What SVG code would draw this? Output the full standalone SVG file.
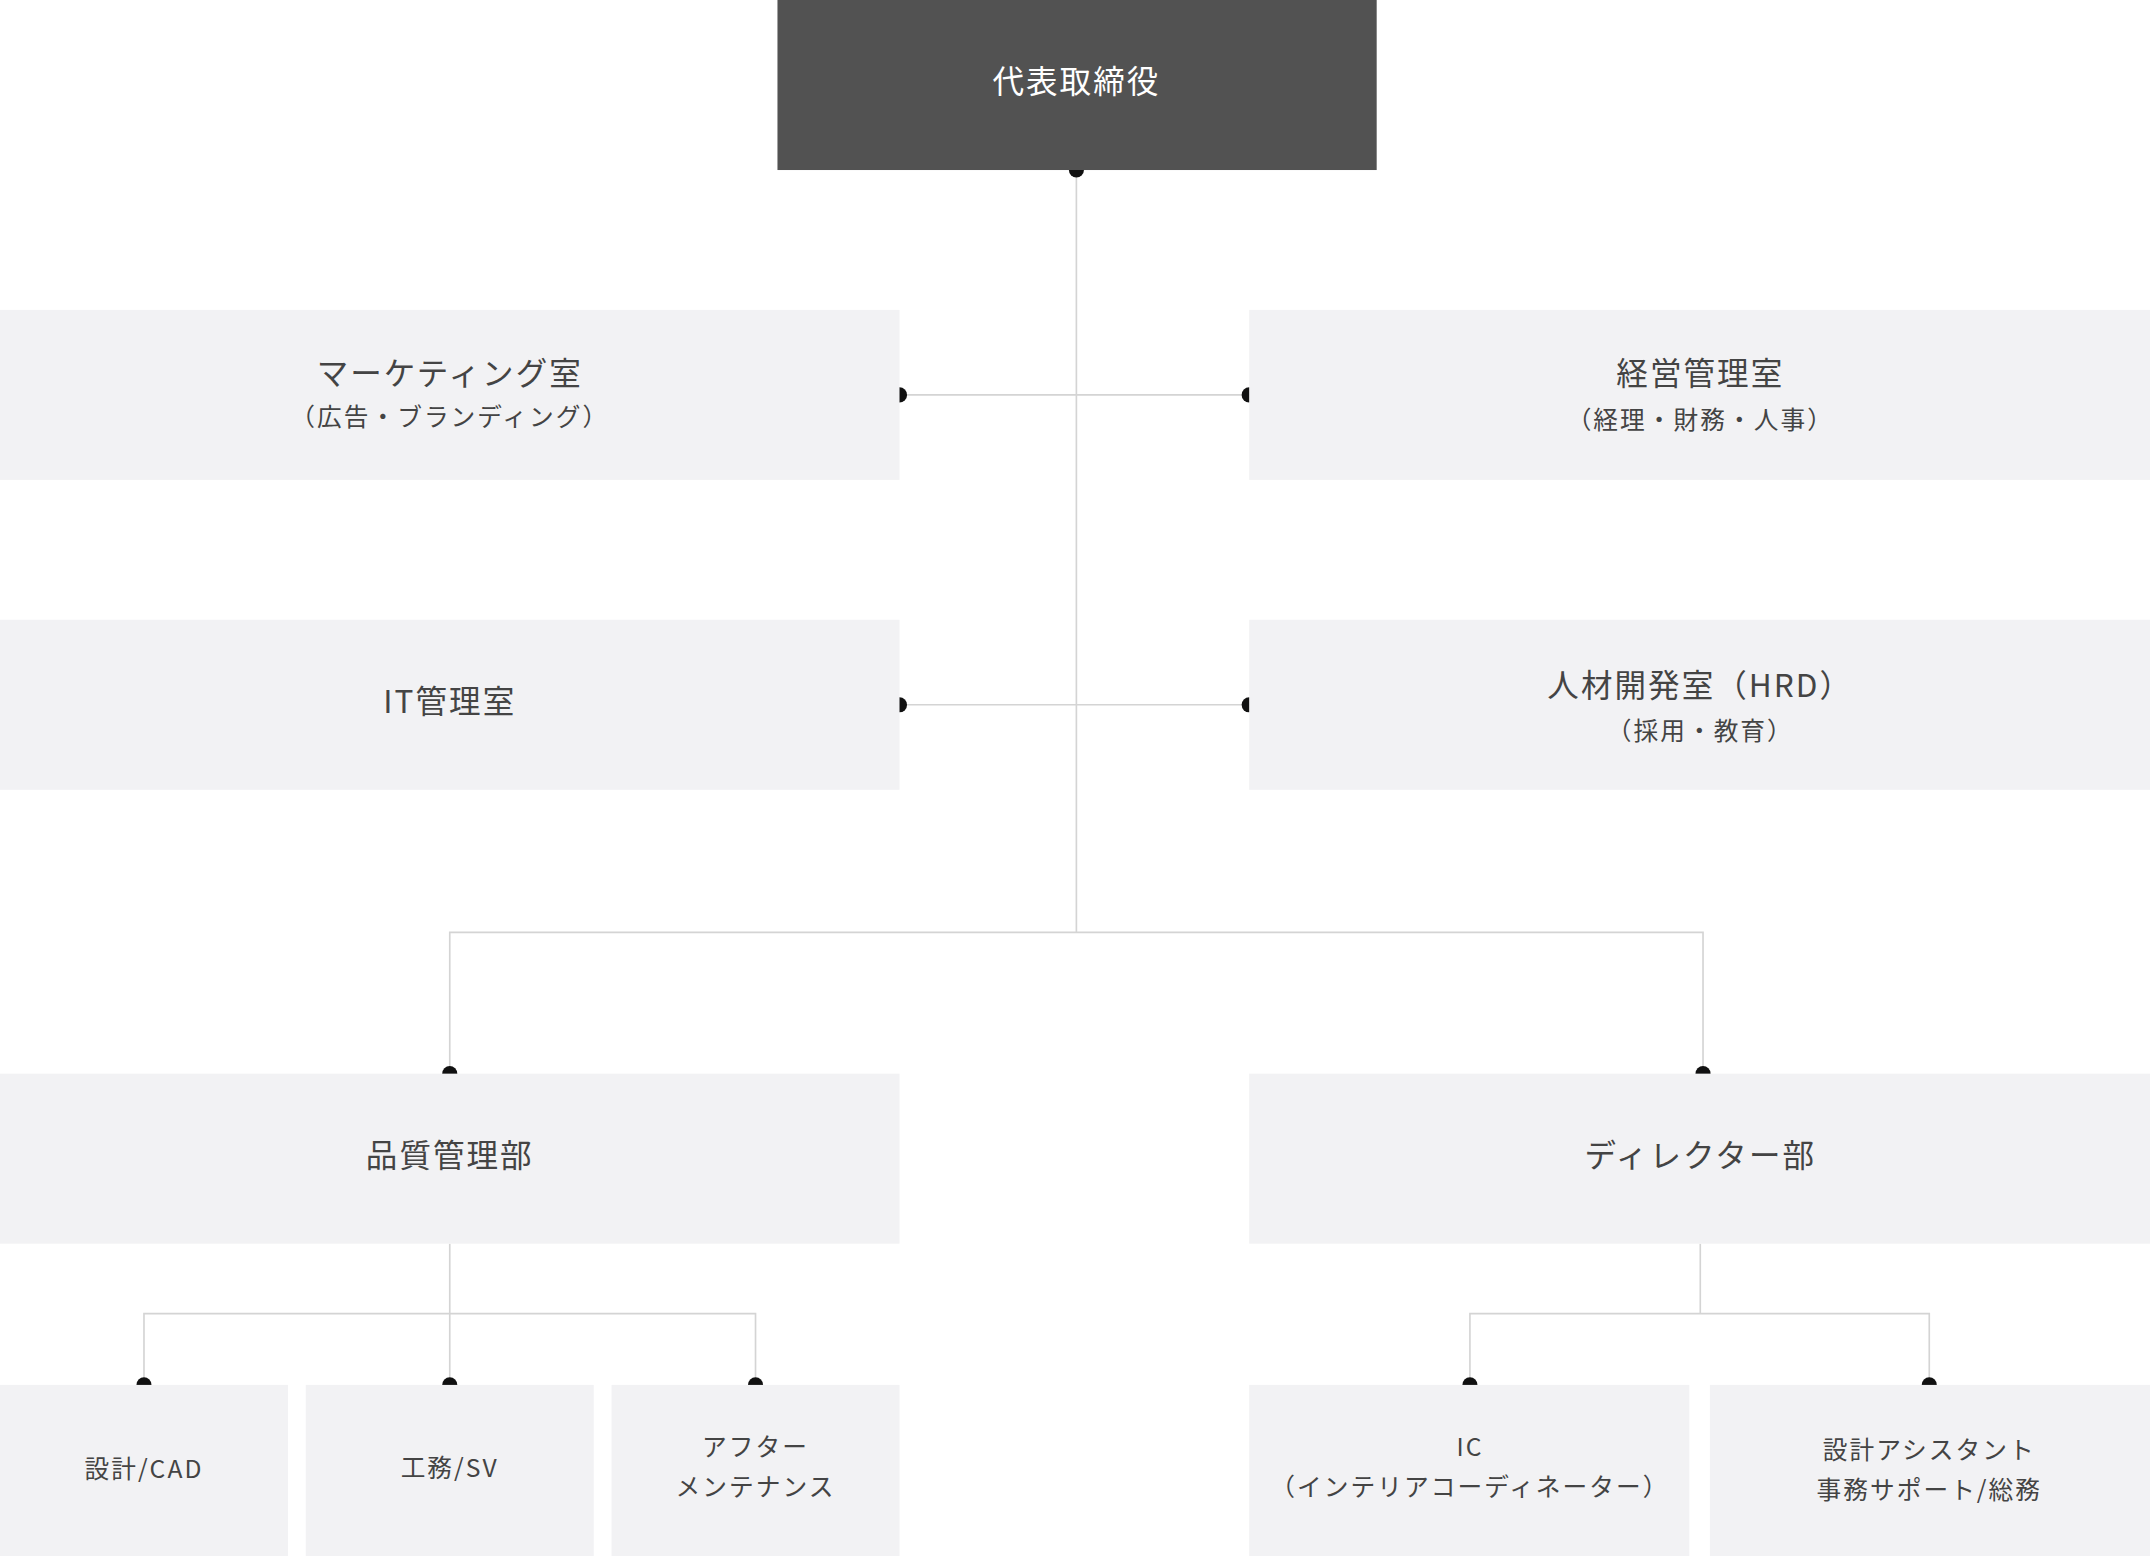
<svg xmlns="http://www.w3.org/2000/svg" width="2150" height="1556" viewBox="0 0 2150 1556">
<style>
.b{fill:#f2f2f4}
.t{font-family:"Noto Sans CJK JP","Noto Sans",sans-serif;fill:#444;text-anchor:middle;letter-spacing:1.5px}
.l{font-size:23px}.s{font-size:18px}.m{font-size:18px}
.c{stroke:#d4d4d4;stroke-width:1.2;fill:none}
.d{fill:#111}
</style>
<rect width="2150" height="1556" fill="#fff"/>
<g transform="scale(1.3712)">
<g id="connectors">
<path class="c" d="M785 124V680M656 288H911M656 514H911M328 783V680H1242V783M328 907V958M105 1010V958H551V1010M328 958V1010M1240 907V958M1072 1010V958H1407V1010"/>
<g class="d"><circle cx="785" cy="124" r="5.5"/><circle cx="656" cy="288" r="5.5"/><circle cx="911" cy="288" r="5.5"/><circle cx="656" cy="514" r="5.5"/><circle cx="911" cy="514" r="5.5"/><circle cx="328" cy="783" r="5.5"/><circle cx="1242" cy="783" r="5.5"/><circle cx="105" cy="1010" r="5.5"/><circle cx="328" cy="1010" r="5.5"/><circle cx="551" cy="1010" r="5.5"/><circle cx="1072" cy="1010" r="5.5"/><circle cx="1407" cy="1010" r="5.5"/></g>
</g>
<g id="ceo"><rect x="567" y="0" width="437" height="124" fill="#525252"/><text class="t l" x="785" y="68" style="fill:#fff">代表取締役</text></g>
<g id="marketing"><rect class="b" x="0" y="226" width="656" height="124"/><text class="t l" x="328" y="281">マーケティング室</text><text class="t s" x="328" y="311">（広告・ブランディング）</text></g>
<g id="keiei"><rect class="b" x="911" y="226" width="657" height="124"/><text class="t l" x="1240" y="281">経営管理室</text><text class="t s" x="1240" y="313">（経理・財務・人事）</text></g>
<g id="it"><rect class="b" x="0" y="452" width="656" height="124"/><text class="t l" x="328" y="520">IT管理室</text></g>
<g id="hrd"><rect class="b" x="911" y="452" width="657" height="124"/><text class="t l" x="1240" y="508">人材開発室（HRD）</text><text class="t s" x="1240" y="540">（採用・教育）</text></g>
<g id="quality"><rect class="b" x="0" y="783" width="656" height="124"/><text class="t l" x="328" y="851">品質管理部</text></g>
<g id="director"><rect class="b" x="911" y="783" width="657" height="124"/><text class="t l" x="1240" y="851">ディレクター部</text></g>
<g id="cad"><rect class="b" x="0" y="1010" width="210" height="125"/><text class="t m" x="105" y="1078">設計/CAD</text></g>
<g id="sv"><rect class="b" x="223" y="1010" width="210" height="125"/><text class="t m" x="328" y="1077">工務/SV</text></g>
<g id="after"><rect class="b" x="446" y="1010" width="210" height="125"/><text class="t m" x="551" y="1062">アフター</text><text class="t m" x="551" y="1091">メンテナンス</text></g>
<g id="ic"><rect class="b" x="911" y="1010" width="321" height="125"/><text class="t m" x="1072" y="1062">IC</text><text class="t m" x="1072" y="1091">（インテリアコーディネーター）</text></g>
<g id="assist"><rect class="b" x="1247" y="1010" width="321" height="125"/><text class="t m" x="1407" y="1064">設計アシスタント</text><text class="t m" x="1407" y="1093">事務サポート/総務</text></g>
</g>
</svg>
